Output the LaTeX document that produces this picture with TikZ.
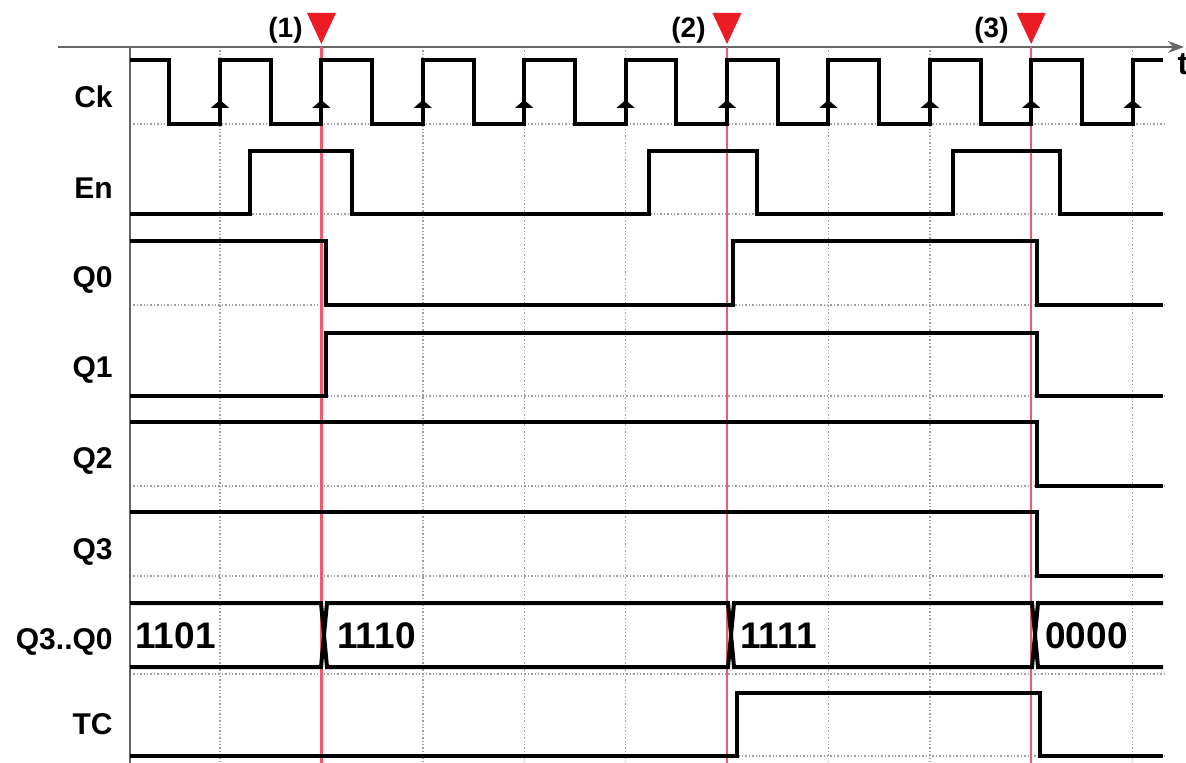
\documentclass[tikz,border=0pt]{standalone}
\usepackage{fontspec}
\setmainfont{Liberation Sans}
\usetikzlibrary{arrows.meta}
\definecolor{cursorred}{RGB}{242,90,110}
\definecolor{markred}{RGB}{236,28,36}

\begin{document}
\begin{tikzpicture}[x=0.5pt,y=-0.5pt]
\tikzset{
  siglabel/.style={anchor=base east,inner sep=0pt,font=\bfseries\fontsize{15}{15}\selectfont},
  busvalue/.style={anchor=base west,inner sep=0pt,font=\bfseries\fontsize{18.5}{18.5}\selectfont},
  marklabel/.style={anchor=base east,inner sep=0pt,font=\bfseries\fontsize{14}{14}\selectfont},
  wave/.style={line width=2pt,black},
  gridline/.style={gray!75,densely dotted,line width=0.7pt},
  axisline/.style={gray!80!black,line width=1pt},
  cursor/.style={cursorred,line width=1.1pt},
  edgetip/.style={-{Triangle[length=4pt,width=9pt]},line width=2pt}
}
\useasboundingbox (0,0) rectangle (1186,763);
% grid
\draw[gridline] (220,47) -- (220,763);
\draw[gridline] (321.4,47) -- (321.4,763);
\draw[gridline] (422.8,47) -- (422.8,763);
\draw[gridline] (524.2,47) -- (524.2,763);
\draw[gridline] (625.6,47) -- (625.6,763);
\draw[gridline] (727,47) -- (727,763);
\draw[gridline] (828.4,47) -- (828.4,763);
\draw[gridline] (929.8,47) -- (929.8,763);
\draw[gridline] (1031.2,47) -- (1031.2,763);
\draw[gridline] (1132.6,47) -- (1132.6,763);
\draw[gridline] (130,124) -- (1165,124);
\draw[gridline] (130,214) -- (1165,214);
\draw[gridline] (130,305) -- (1165,305);
\draw[gridline] (130,396) -- (1165,396);
\draw[gridline] (130,486) -- (1165,486);
\draw[gridline] (130,576) -- (1165,576);
\draw[gridline] (130,674) -- (1165,674);
\draw[gridline] (130,756) -- (1165,756);
% axes
\draw[axisline] (130,47) -- (130,763);
\draw[axisline,-{Stealth[length=8pt,width=6pt]}] (58,47) -- (1184,47);
\node[inner sep=0pt,font=\bfseries\fontsize{16}{16}\selectfont] (n_t) at (1183,64) {t};
% cursors
\draw[cursor] (321.4,47) -- (321.4,763);
\draw[cursor] (727,47) -- (727,763);
\draw[cursor] (1031.2,47) -- (1031.2,763);
\fill[markred] (307,13) -- (336,13) -- (321.4,44) -- cycle;
\fill[markred] (712.5,13) -- (741.5,13) -- (727,44) -- cycle;
\fill[markred] (1016.7,13) -- (1045.7,13) -- (1031.2,44) -- cycle;
\node[marklabel] (n_m1) at (303,38) {(1)};
\node[marklabel] (n_m2) at (706,38) {(2)};
\node[marklabel] (n_m3) at (1009,38) {(3)};
% signal names
\node[siglabel] (n_ck) at (113,108) {Ck};
\node[siglabel] (n_en) at (113,199) {En};
\node[siglabel] (n_q0) at (113,288) {Q0};
\node[siglabel] (n_q1) at (113,378) {Q1};
\node[siglabel] (n_q2) at (113,469) {Q2};
\node[siglabel] (n_q3) at (113,559) {Q3};
\node[siglabel] (n_bus) at (113,649) {Q3..Q0};
\node[siglabel] (n_tc) at (113,734) {TC};
% waves
\draw[wave] (130,60) -| (169.3,124) -| (220,60) -| (270.7,124) -| (321.4,60) -| (372.1,124)
  -| (422.8,60) -| (473.5,124) -| (524.2,60) -| (574.9,124) -| (625.6,60) -| (676.3,124)
  -| (727,60) -| (777.7,124) -| (828.4,60) -| (879.1,124) -| (929.8,60) -| (980.5,124)
  -| (1031.2,60) -| (1081.9,124) -| (1132.6,60) -- (1163,60);
\draw[edgetip] (220,124) -- (220,100);
\draw[edgetip] (321.4,124) -- (321.4,100);
\draw[edgetip] (422.8,124) -- (422.8,100);
\draw[edgetip] (524.2,124) -- (524.2,100);
\draw[edgetip] (625.6,124) -- (625.6,100);
\draw[edgetip] (727,124) -- (727,100);
\draw[edgetip] (828.4,124) -- (828.4,100);
\draw[edgetip] (929.8,124) -- (929.8,100);
\draw[edgetip] (1031.2,124) -- (1031.2,100);
\draw[edgetip] (1132.6,124) -- (1132.6,100);
\draw[wave] (130,214) -| (250,151) -| (352,214) -| (648.6,151) -| (757,214) -| (953,151) -| (1060,214) -- (1163,214);
\draw[wave] (130,241) -| (326,305) -| (733,241) -| (1037,305) -- (1163,305);
\draw[wave] (130,396) -| (326,333) -| (1037,396) -- (1163,396);
\draw[wave] (130,422) -| (1037,486) -- (1163,486);
\draw[wave] (130,512) -| (1037,576) -- (1163,576);
\draw[wave] (130,603) -- (321,603) -- (327,667) -- (728,667) -- (734,603) -- (1032,603) -- (1038,667) -- (1163,667);
\draw[wave] (130,667) -- (321,667) -- (327,603) -- (728,603) -- (734,667) -- (1032,667) -- (1038,603) -- (1163,603);
\draw[wave] (130,756) -| (737,693) -| (1040,756) -- (1163,756);
% bus values
\node[busvalue] (n_v0) at (135,648) {1101};
\node[busvalue] (n_v1) at (337,648) {1110};
\node[busvalue] (n_v2) at (740,648) {1111};
\node[busvalue] (n_v3) at (1045,648) {0000};
\end{tikzpicture}
\end{document}
